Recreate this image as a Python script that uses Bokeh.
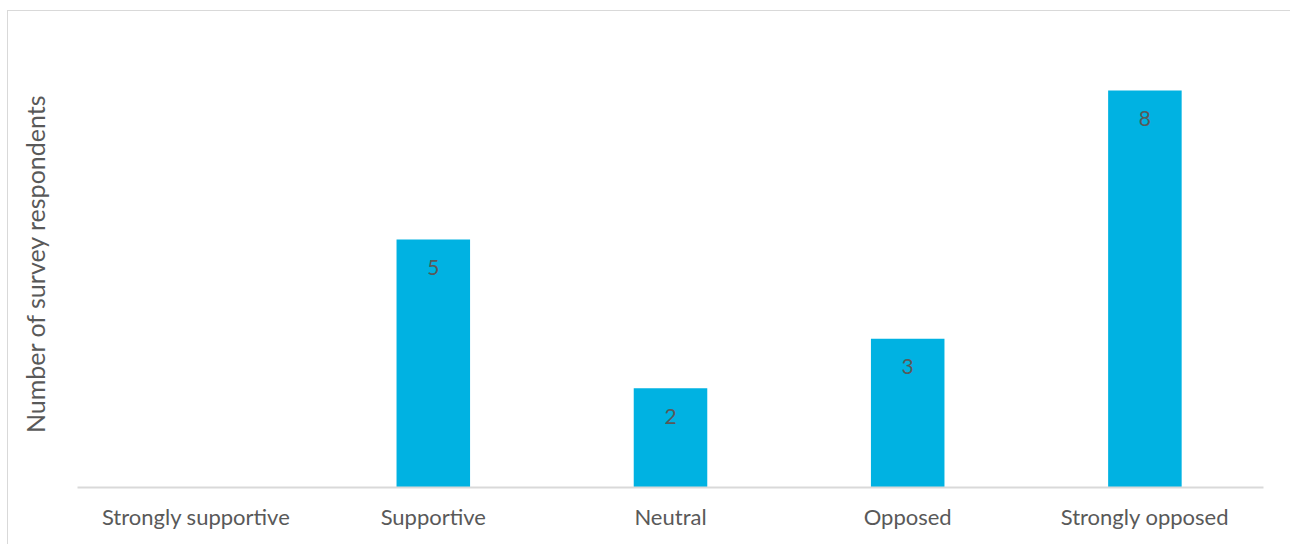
from bokeh.plotting import figure
from bokeh.models import ColumnDataSource, FixedTicker, Range1d
from bokeh.core.properties import value
from bokeh.embed import file_html
from bokeh.resources import INLINE

categories = ["Strongly supportive", "Supportive", "Neutral", "Opposed", "Strongly opposed"]
counts = [0, 5, 2, 3, 8]

FONT = "Lato"
TXT = "#595959"

src = ColumnDataSource(data=dict(cat=categories, n=counts))
lab = ColumnDataSource(data=dict(
    cat=[c for c, v in zip(categories, counts) if v > 0],
    n=[v for v in counts if v > 0],
    t=[str(v) for v in counts if v > 0],
))

p = figure(x_range=categories, y_range=Range1d(0, 9.03), width=1290, height=540,
           output_backend="svg", toolbar_location=None,
           min_border_left=69, min_border_right=35, min_border_top=28, min_border_bottom=64)
p.margin = (10, 0, 0, 7)
p.styles = {"border": "1px solid #d9d9d9"}
p.outline_line_color = None
p.background_fill_color = "white"
p.border_fill_color = "white"
p.xgrid.grid_line_color = None
p.ygrid.grid_line_color = None
p.x_range.range_padding = 0.0

p.vbar(x="cat", top="n", width=0.31, source=src, fill_color="#00B2E2", line_color=None)
p.text(x="cat", y="n", text="t", source=lab, y_offset=28, text_align="center",
       text_baseline="middle", text_color=TXT, text_font=value(FONT), text_font_size="21px")

xa = p.xaxis[0]
xa.axis_line_color = "#d9d9d9"
xa.axis_line_width = 2
xa.major_tick_line_color = None
xa.minor_tick_line_color = None
xa.major_label_text_color = TXT
xa.major_label_text_font = FONT
xa.major_label_text_font_size = "22px"
xa.major_label_standoff = 9

ya = p.yaxis[0]
ya.ticker = FixedTicker(ticks=[])
ya.axis_line_color = None
ya.major_tick_line_color = None
ya.minor_tick_line_color = None
ya.axis_label = "Number of survey respondents"
ya.axis_label_text_font = FONT
ya.axis_label_text_font_style = "normal"
ya.axis_label_text_font_size = "25px"
ya.axis_label_text_color = TXT
ya.axis_label_standoff = 28

open("out.html", "w").write(file_html(p, INLINE))
